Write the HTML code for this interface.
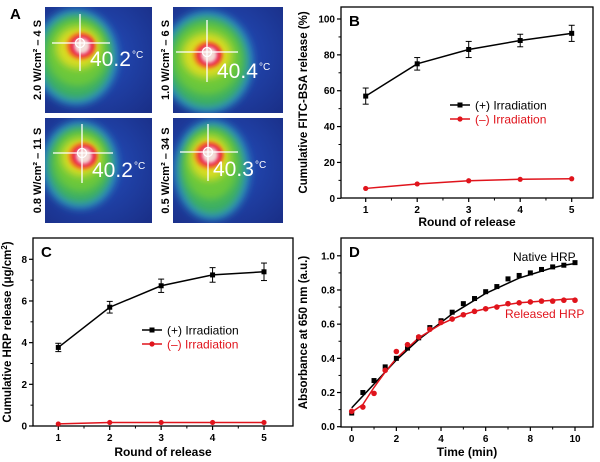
<!DOCTYPE html>
<html><head><meta charset="utf-8"><style>
html,body{margin:0;padding:0;background:#fff;}
svg{display:block;font-family:"Liberation Sans",Arial,sans-serif;}
</style></head><body>
<svg id="fig" width="600" height="462" viewBox="0 0 600 462" xmlns="http://www.w3.org/2000/svg">
<defs>
<filter id="bl" x="-50%" y="-50%" width="200%" height="200%"><feGaussianBlur stdDeviation="4"/></filter>
<filter id="bl2" x="-50%" y="-50%" width="200%" height="200%"><feGaussianBlur stdDeviation="1.8"/></filter>
<radialGradient id="bg" cx="45%" cy="45%" r="75%"><stop offset="0" stop-color="#2450c0"/><stop offset="1" stop-color="#1a2f88"/></radialGradient>
</defs>
<g id="panelA"></g>
<g id="panelB"></g>
<g id="panelC"></g>
<g id="panelD"></g>
</svg>
<script>
// ---- Panel B data ----
const roundsB = [1,2,3,4,5];
const bIrr = [57,75,83,88,92];
const bIrrErr = [4.5,3.5,4.5,3.5,4.5];
const bNo = [5.5,8,9.8,10.6,10.9];
const bYTicks = [0,20,40,60,80,100];
// ---- Panel C data ----
const roundsC = [1,2,3,4,5];
const cIrr = [3.77,5.7,6.73,7.25,7.4];
const cIrrErr = [0.2,0.28,0.32,0.35,0.42];
const cNo = [0.1,0.17,0.17,0.17,0.17];
const cYTicks = [0,2,4,6,8];
// ---- Panel D data ----
const timeD = [0,0.5,1,1.5,2,2.5,3,3.5,4,4.5,5,5.5,6,6.5,7,7.5,8,8.5,9,9.5,10];
const nativeHRP = [0.08,0.2,0.27,0.35,0.40,0.46,0.52,0.58,0.62,0.67,0.72,0.75,0.79,0.82,0.865,0.885,0.90,0.92,0.935,0.945,0.96];
const releasedHRP = [0.09,0.115,0.195,0.33,0.44,0.48,0.525,0.57,0.61,0.63,0.655,0.675,0.69,0.70,0.72,0.725,0.73,0.735,0.735,0.74,0.74];
const nativeFit = [0.11,0.18,0.25,0.32,0.39,0.45,0.51,0.56,0.61,0.66,0.70,0.74,0.78,0.81,0.84,0.87,0.89,0.91,0.93,0.945,0.955];
const releasedFit = [0.085,0.13,0.23,0.32,0.40,0.46,0.52,0.56,0.60,0.63,0.655,0.675,0.69,0.705,0.715,0.725,0.73,0.735,0.74,0.745,0.748];
const dXTicks = [0,2,4,6,8,10];
const dYTicks = [0,0.2,0.4,0.6,0.8,1.0];
// ---- Panel A data ----
const temps = ["40.2","40.4","40.2","40.3"];
const powers = ["2.0 W/cm² – 4 S","1.0 W/cm² – 6 S","0.8 W/cm² – 11 S","0.5 W/cm² – 34 S"];

const NS="http://www.w3.org/2000/svg";
function mk(parent,tag,attrs,text){const e=document.createElementNS(NS,tag);for(const k in attrs)e.setAttribute(k,attrs[k]);if(text!==undefined)e.textContent=text;parent.appendChild(e);return e;}
function lin(d0,d1,r0,r1){return v=>r0+(v-d0)*(r1-r0)/(d1-d0);}

// ---------- Panel A ----------
(function(){
 const g=document.getElementById('panelA');
 const t=mk(g,'text',{x:10,y:19,'font-size':15,'font-weight':'bold'},'A');
 
 
 // x,y,w,h,cx,cy,h0,h1,v0,v1,tx,ty, blob dx,dy,rx,ry
 const boxes=[[45,7,107,106,80,43,52,110,14,71,90,66,-4,14,36,42],[173,7,110,106,207,52,176,238,20,82,217,78,0,10,40,45],[45,118,107,105,82,153,53,113,124,183,92,177,-2,12,32,38],[173,118,110,105,208,152,180,238,124,181,213,176,4,18,32,44]];
 const defs=document.querySelector('defs');
 boxes.forEach((b,i)=>{
  const [x,y,w,h,cx,cy,h0,h1,v0,v1,tx,ty,dx,dy,rx,ry]=b;
  const ig=mk(g,'g',{});
  
  
  const cpe=mk(defs,'clipPath',{id:'cp'+i});
  mk(cpe,'rect',{x:x,y:y,width:w,height:h});
  const cg=mk(ig,'g',{'clip-path':'url(#cp'+i+')'});
  mk(cg,'rect',{x:x,y:y,width:w,height:h,fill:'url(#bg)'});
  mk(cg,'ellipse',{cx:cx+dx,cy:cy+dy,rx:rx+6,ry:ry+6,fill:'#2a8fc0',filter:'url(#bl)'});
  mk(cg,'ellipse',{cx:cx+dx,cy:cy+dy,rx:rx,ry:ry,fill:'#3cb060',filter:'url(#bl)'});
  mk(cg,'ellipse',{cx:cx+dx*0.7,cy:cy+dy*0.7,rx:rx*0.85,ry:ry*0.8,fill:'#6cc83a',filter:'url(#bl)'});
  mk(cg,'ellipse',{cx:cx+dx*0.4,cy:cy+dy*0.35,rx:rx*0.62,ry:ry*0.5,fill:'#d8dc22',filter:'url(#bl)'});
  mk(cg,'ellipse',{cx:cx+1,cy:cy+3,rx:15,ry:14,fill:'#f08a20',filter:'url(#bl2)'});
  mk(cg,'ellipse',{cx:cx+2,cy:cy+3,rx:12,ry:11,fill:'#e8184a',filter:'url(#bl2)'});
  mk(cg,'ellipse',{cx:cx+2,cy:cy+3,rx:8,ry:8,fill:'#f3ddd8',filter:'url(#bl2)'});
  mk(cg,'line',{x1:h0,y1:cy,x2:h1,y2:cy,stroke:'#fff','stroke-width':1.3});
  mk(cg,'line',{x1:cx,y1:v0,x2:cx,y2:v1,stroke:'#fff','stroke-width':1.3});
  mk(cg,'circle',{cx:cx,cy:cy,r:4.5,fill:'none',stroke:'#fff','stroke-width':1.3});
  const tt=mk(ig,'text',{x:tx,y:ty,'font-size':21,fill:'#fff'},temps[i]);
  
  
  mk(ig,'text',{x:tx+42,y:ty-8,'font-size':10,fill:'#fff'},'°C');
  const lx=i%2===0?41:169, ly=y+h/2;
  const pl=mk(g,'text',{x:lx,y:ly,'font-size':11,'font-weight':'bold','text-anchor':'middle',transform:`rotate(-90 ${lx} ${ly})`},powers[i]);
  
  
 });
})();

// ---------- generic axes ----------
function axes(g,o){
 const fr=mk(g,'rect',{x:o.L,y:o.T,width:o.R-o.L,height:o.B-o.T,fill:'none',stroke:'#000','stroke-width':1.3});
 
 
 o.xt.forEach(v=>{const X=o.sx(v);mk(g,'line',{x1:X,y1:o.B,x2:X,y2:o.B+4,stroke:'#000','stroke-width':1.2});
  const tl=mk(g,'text',{x:X,y:o.B+15,'font-size':10,'font-weight':'bold','text-anchor':'middle'},v);
  
  });
 o.xm.forEach(v=>{const X=o.sx(v);mk(g,'line',{x1:X,y1:o.B,x2:X,y2:o.B+2.5,stroke:'#000','stroke-width':1});});
 o.yt.forEach(v=>{const Y=o.sy(v);mk(g,'line',{x1:o.L-4,y1:Y,x2:o.L,y2:Y,stroke:'#000','stroke-width':1.2});
  const tl=mk(g,'text',{x:o.L-6,y:Y+3.5,'font-size':10,'font-weight':'bold','text-anchor':'end'},o.fmt?o.fmt(v):v);
  
  });
 o.ym.forEach(v=>{const Y=o.sy(v);mk(g,'line',{x1:o.L-2.5,y1:Y,x2:o.L,y2:Y,stroke:'#000','stroke-width':1});});
 const xt=mk(g,'text',{x:(o.L+o.R)/2,y:o.xty,'font-size':12,'font-weight':'bold','text-anchor':'middle'},o.xtitle);
 
 
 const cy=(o.T+o.B)/2;
 const yt=mk(g,'text',{x:o.ytx,y:cy,'font-size':11.5,'font-weight':'bold','text-anchor':'middle',transform:`rotate(-90 ${o.ytx} ${cy})`});
 yt.innerHTML=o.ytitle;
 
 
 const pl=mk(g,'text',{x:o.L+8,y:o.T+19,'font-size':15,'font-weight':'bold'},o.label);
 
 
}
function series(g,xs,ys,sx,sy,color,shape,name,err){
 const sg=mk(g,'g',{});
 
 
 mk(sg,'polyline',{points:xs.map((x,i)=>sx(x)+','+sy(ys[i])).join(' '),fill:'none',stroke:color,'stroke-width':1.5});
 xs.forEach((x,i)=>{const X=sx(x),Y=sy(ys[i]);
  if(err){const y1=sy(ys[i]+err[i]),y2=sy(ys[i]-err[i]);
   mk(sg,'line',{x1:X,y1:y1,x2:X,y2:y2,stroke:color,'stroke-width':1});
   mk(sg,'line',{x1:X-3,y1:y1,x2:X+3,y2:y1,stroke:color,'stroke-width':1});
   mk(sg,'line',{x1:X-3,y1:y2,x2:X+3,y2:y2,stroke:color,'stroke-width':1});}
  const m=shape==='sq'?mk(sg,'rect',{x:X-2.5,y:Y-2.5,width:5,height:5,fill:color}):mk(sg,'circle',{cx:X,cy:Y,r:2.6,fill:color});
  
  
 });
}
function legend(g,x,y){
 const a=mk(g,'g',{});
 mk(a,'line',{x1:x,y1:y,x2:x+20,y2:y,stroke:'#000','stroke-width':1.5});mk(a,'rect',{x:x+7.5,y:y-2.5,width:5,height:5,fill:'#000'});
 mk(a,'text',{x:x+25,y:y+4.5,'font-size':12},'(+) Irradiation');
 const b=mk(g,'g',{});
 mk(b,'line',{x1:x,y1:y+14,x2:x+20,y2:y+14,stroke:'#e0141c','stroke-width':1.5});mk(b,'circle',{cx:x+10,cy:y+14,r:2.6,fill:'#e0141c'});
 mk(b,'text',{x:x+25,y:y+18.5,'font-size':12,fill:'#e0141c'},'(–) Irradiation');
}

// ---------- Panel B ----------
(function(){
 const g=document.getElementById('panelB');
 const o={L:341,R:593,T:7,B:198,label:'B',xtitle:'Round of release',xty:226,ytx:307,ytitle:'Cumulative FITC-BSA release (%)'};
 o.sx=lin(1,5,365.7,571.7);o.sy=lin(0,100,198.3,19);
 o.xt=roundsB;o.xm=[1.5,2.5,3.5,4.5];o.yt=bYTicks;o.ym=[10,30,50,70,90];
 axes(g,o);
 series(g,roundsB,bIrr,o.sx,o.sy,'#000','sq','series-irradiation',bIrrErr);
 series(g,roundsB,bNo,o.sx,o.sy,'#e0141c','ci','series-no-irradiation');
 legend(g,450,105);
})();
// ---------- Panel C ----------
(function(){
 const g=document.getElementById('panelC');
 const o={L:33,R:293,T:238,B:426,label:'C',xtitle:'Round of release',xty:456,ytx:11,ytitle:'Cumulative HRP release (μg/cm<tspan dy="-4" font-size="8">2</tspan><tspan dy="4">)</tspan>'};
 o.sx=lin(1,5,58.3,264);o.sy=lin(0,8,426,259.3);
 o.xt=roundsC;o.xm=[1.5,2.5,3.5,4.5];o.yt=cYTicks;o.ym=[1,3,5,7];
 axes(g,o);
 series(g,roundsC,cIrr,o.sx,o.sy,'#000','sq','series-irradiation',cIrrErr);
 series(g,roundsC,cNo,o.sx,o.sy,'#e0141c','ci','series-no-irradiation');
 legend(g,142,330);
})();
// ---------- Panel D ----------
(function(){
 const g=document.getElementById('panelD');
 const o={L:341,R:593,T:238,B:427,label:'D',xtitle:'Time (min)',xty:456,ytx:307,ytitle:'Absorbance at 650 nm (a.u.)',fmt:v=>v.toFixed(1)};
 o.sx=lin(0,10,351.7,575);o.sy=lin(0,1,426.7,255.8);
 o.xt=dXTicks;o.xm=[1,3,5,7,9];o.yt=dYTicks;o.ym=[0.1,0.3,0.5,0.7,0.9];
 axes(g,o);
 const f1=mk(g,'polyline',{points:timeD.map((x,i)=>o.sx(x)+','+o.sy(nativeFit[i])).join(' '),fill:'none',stroke:'#000','stroke-width':1.5});
 
 
 const f2=mk(g,'polyline',{points:timeD.map((x,i)=>o.sx(x)+','+o.sy(releasedFit[i])).join(' '),fill:'none',stroke:'#e0141c','stroke-width':1.5});
 
 
 timeD.forEach((x,i)=>{const r=mk(g,'rect',{x:o.sx(x)-2.5,y:o.sy(nativeHRP[i])-2.5,width:5,height:5,fill:'#000'});
  
  });
 timeD.forEach((x,i)=>{const c=mk(g,'circle',{cx:o.sx(x),cy:o.sy(releasedHRP[i]),r:2.8,fill:'#e0141c'});
  
  });
 const n=mk(g,'text',{x:513,y:261,'font-size':12},'Native HRP');
 
 
 const r=mk(g,'text',{x:505,y:318,'font-size':12,fill:'#e0141c'},'Released HRP');
 
 
})();
</script>
</body></html>
